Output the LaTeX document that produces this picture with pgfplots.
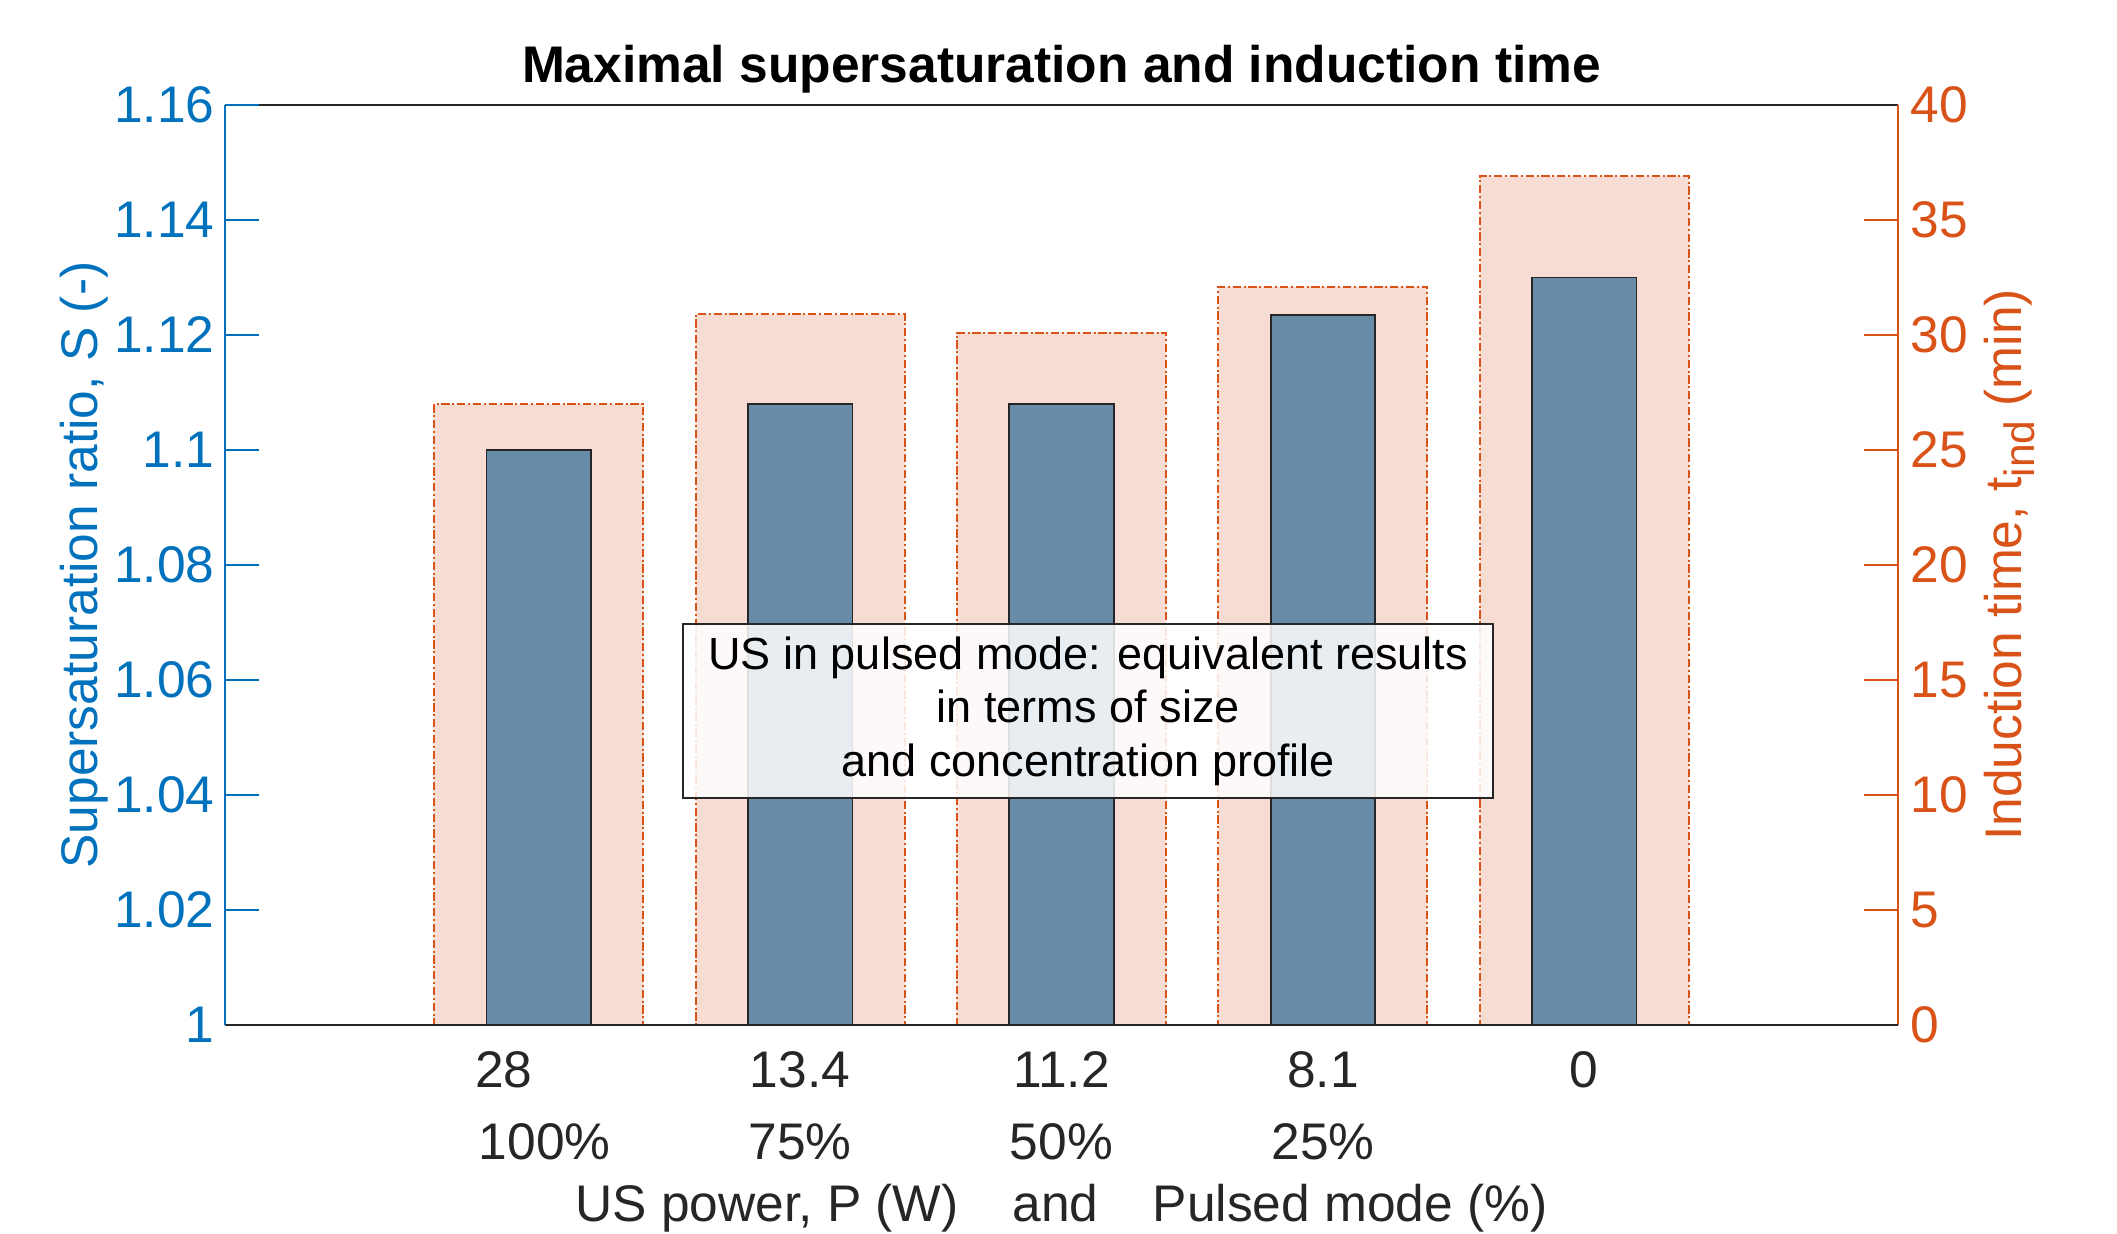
\documentclass[border=0pt]{standalone}
\usepackage{pgfplots}
\pgfplotsset{compat=1.18}
\usepackage{fontspec}
\setmainfont{Liberation Sans}
\definecolor{mblue}{RGB}{0,114,189}
\definecolor{morange}{RGB}{217,83,25}
\definecolor{barblue}{RGB}{104,140,168}
\definecolor{barorange}{RGB}{246,220,210}
\definecolor{spine}{RGB}{38,38,38}
\begin{document}
\begin{tikzpicture}
\useasboundingbox (-45pt,-41.6pt) rectangle (378.4pt,205pt);
\pgfplotsset{common/.style={
  scale only axis, width=334.6pt, height=184pt,
  at={(0,0)}, anchor=south west,
  xmin=-0.2, xmax=6.2,
  axis on top, tick align=inside, major tick length=6.8pt,
  every tick label/.append style={font=\fontsize{10.3}{12}\selectfont},
  /pgf/number format/assume math mode=true,
  label style={font=\fontsize{10.3}{12}\selectfont},
  axis line style={line width=0.4pt},
  every tick/.append style={line width=0.4pt},
}}
% right axis (induction time)
\begin{axis}[common,
  ymin=0, ymax=40, ytick={0,5,10,15,20,25,30,35,40},
  axis y line*=right, axis x line*=top, xtick=\empty,
  y axis line style={morange}, x axis line style={spine},
  ytick style={morange}, yticklabel style={morange, xshift=-1pt},
  ylabel={Induction time, t\raisebox{-0.45ex}{\fontsize{8.5}{9}\selectfont ind} (min)},
  ylabel style={morange, at={(axis description cs:1.074,0.5)}, anchor=base},
]
\addplot[ybar, bar width=0.8, fill=barorange, draw=morange, line width=0.4pt,
  dash pattern=on 1.65pt off 0.55pt on 0.4pt off 0.55pt]
  coordinates {(1,27.0) (2,30.9) (3,30.1) (4,32.1) (5,36.9)};
\end{axis}
% left axis (supersaturation)
\begin{axis}[common,
  ymin=1, ymax=1.16,
  ytick={1,1.02,1.04,1.06,1.08,1.1,1.12,1.14,1.16},
  yticklabels={1,1.02,1.04,1.06,1.08,1.1,1.12,1.14,1.16},
  axis y line*=left, axis x line*=bottom,
  y axis line style={mblue}, x axis line style={spine},
  ytick style={mblue}, yticklabel style={mblue, xshift=1.4pt},
  xtick={1,2,3,4,5},
  xticklabels={28\hspace*{14pt},13.4,11.2,8.1,0},
  xtick style={draw=none},
  xticklabel style={spine, anchor=base, yshift=-12.4pt},
  extra x ticks={1,2,3,4},
  extra x tick labels={\hspace*{2.4pt}100\%,75\%,50\%,25\%},
  extra x tick style={xticklabel style={yshift=-14.4pt}, tick style={draw=none}},
  ylabel={Supersaturation ratio, S (-)},
  ylabel style={mblue, at={(axis description cs:-0.076,0.5)}, anchor=base},
  xlabel={US power, P (W)\hspace{1.05em}and\hspace{1.05em}Pulsed mode (\%)},
  xlabel style={spine, at={(axis description cs:0.5,-0.2141)}, anchor=base},
  title={Maximal supersaturation and induction time},
  every axis title shift=0pt,
  title style={font=\bfseries\fontsize{10.3}{12}\selectfont, at={(axis description cs:0.5,1.025)}, anchor=base},
]
\addplot[ybar, bar width=0.4, fill=barblue, draw=black!85, line width=0.35pt]
  coordinates {(1,1.100) (2,1.108) (3,1.108) (4,1.1235) (5,1.130)};
\node[draw=black!85, line width=0.4pt, fill=white, fill opacity=0.85, text opacity=1,
  align=center, minimum width=162pt, minimum height=34.8pt, inner sep=0pt,
  font=\fontsize{9}{10.7}\selectfont]
  at (rel axis cs:0.516,0.341)
  {US in pulsed mode: equivalent results\\in terms of size\\and concentration profile};
\end{axis}
\end{tikzpicture}
\end{document}
